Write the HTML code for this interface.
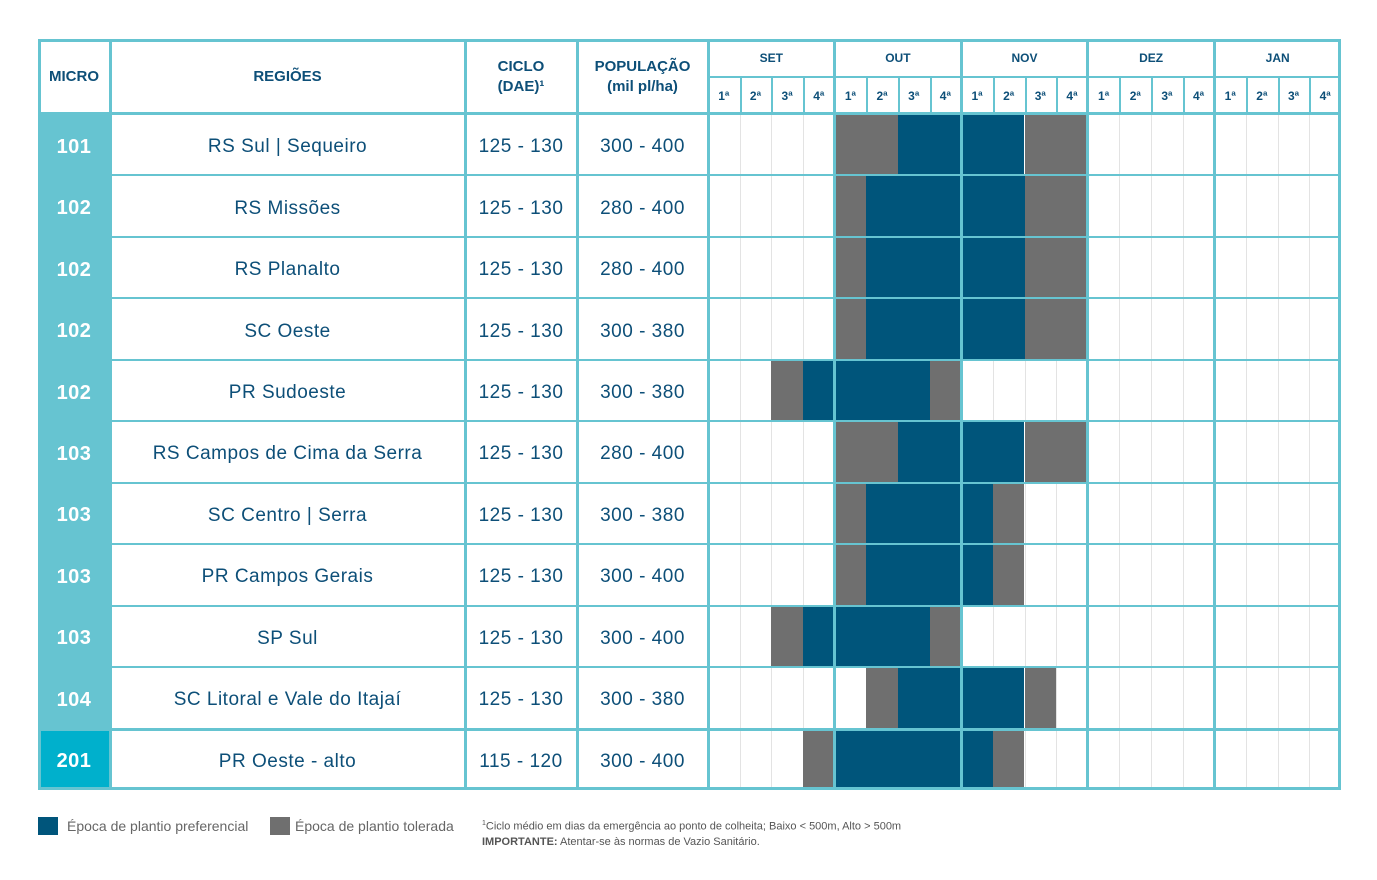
<!DOCTYPE html>
<html><head><meta charset="utf-8"><style>
body{margin:0;background:#fff;width:1377px;height:880px;position:relative;overflow:hidden;font-family:"Liberation Sans",sans-serif;color:#0d4f78}
div{position:absolute;box-sizing:border-box}
.t{display:flex;align-items:center;justify-content:center;text-align:center}
.h{font-weight:bold;font-size:15px;line-height:20px}
.c{font-size:19px;letter-spacing:0.5px;padding-top:5px}
</style></head><body>
<script>
var R=document.body,T='#66c4d1',B='#00557b',G='#6f6f6f';
function d(x,y,w,h,bg,html,cls){var e=document.createElement('div');e.style.cssText='left:'+x+'px;top:'+y+'px;width:'+w+'px;height:'+h+'px;'+(bg?'background:'+bg+';':'');if(html!=null){e.className='t '+(cls||'');e.innerHTML=html;}R.appendChild(e);return e;}
var X0=708,W=(1341-708)/20;
var rows=[['101','RS Sul | Sequeiro','300 - 400',[[4,2,G],[6,4,B],[10,2,G]]],
['102','RS Missões','280 - 400',[[4,1,G],[5,5,B],[10,2,G]]],
['102','RS Planalto','280 - 400',[[4,1,G],[5,5,B],[10,2,G]]],
['102','SC Oeste','300 - 380',[[4,1,G],[5,5,B],[10,2,G]]],
['102','PR Sudoeste','300 - 380',[[2,1,G],[3,4,B],[7,1,G]]],
['103','RS Campos de Cima da Serra','280 - 400',[[4,2,G],[6,4,B],[10,2,G]]],
['103','SC Centro | Serra','300 - 380',[[4,1,G],[5,4,B],[9,1,G]]],
['103','PR Campos Gerais','300 - 400',[[4,1,G],[5,4,B],[9,1,G]]],
['103','SP Sul','300 - 400',[[2,1,G],[3,4,B],[7,1,G]]],
['104','SC Litoral e Vale do Itajaí','300 - 380',[[5,1,G],[6,4,B],[10,1,G]]],
['201','PR Oeste - alto','300 - 400',[[3,1,G],[4,5,B],[9,1,G]]]];
var RH=(790-114)/11;
for(var k=1;k<20;k++)d(X0+k*W,114,1,676,'#e3e3e3');
rows.forEach(function(r,i){var y=114+i*RH;
d(38,y,72,RH,i==10?'#00b0cc':'#66c4d1','<b style="color:#fff;font-size:20px">'+r[0]+'</b>','c');
d(110,y,355,RH,null,r[1],'c');d(465,y,112,RH,null,i==10?'115 - 120':'125 - 130','c');d(577,y,131,RH,null,r[2],'c');
r[3].forEach(function(b){d(X0+b[0]*W,y,b[1]*W,RH,b[2]);});
if(i>0)d(38,y-1,1303,i==10?3:2,T);
});
d(38,39,72,75,null,'MICRO','h');d(110,39,355,75,null,'REGIÕES','h');
d(465,39,112,75,null,'CICLO<br>(DAE)¹','h');d(577,39,131,75,null,'POPULAÇÃO<br>(mil pl/ha)','h');
['SET','OUT','NOV','DEZ','JAN'].forEach(function(m,j){d(X0+j*4*W,39,4*W,38,null,m,'h').style.fontSize='12px';
for(var k=0;k<4;k++){d(X0+(j*4+k)*W,77,W,37,null,(k+1)+'ª','h').style.fontSize='12px';if(k)d(X0+(j*4+k)*W,77,2,37,T);}});
d(708,76,633,2,T);d(38,112,1303,3,T);
d(38,39,1303,751,null).style.border='3px solid '+T;
[110,465,577,708,834,961,1087,1214].forEach(function(x){d(x-1,39,3,751,T);});
d(38,817,20,18,B);d(67,815,200,22,null,'Época de plantio preferencial').style.cssText+='font-size:14px;color:#666;justify-content:flex-start';
d(270,817,20,18,G);d(295,815,200,22,null,'Época de plantio tolerada').style.cssText+='font-size:14px;color:#666;justify-content:flex-start';
var n=d(482,816,600,34,null,'<span><sup style="font-size:7px">1</sup>Ciclo médio em dias da emergência ao ponto de colheita; Baixo &lt; 500m, Alto &gt; 500m<br><b>IMPORTANTE:</b> Atentar-se às normas de Vazio Sanitário.</span>');
n.style.cssText+='font-size:11px;color:#555;justify-content:flex-start;text-align:left;line-height:16px';
</script>
</body></html>
